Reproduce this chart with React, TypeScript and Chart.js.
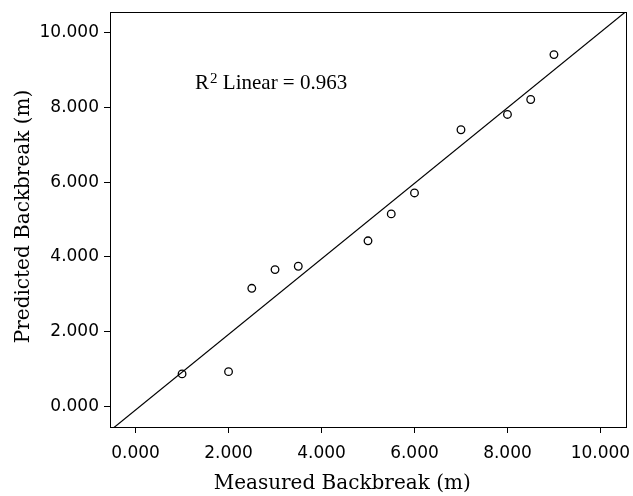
import React, { useEffect, useRef } from "react";
import { Chart, registerables } from "chart.js";

Chart.register(...registerables);

const measured = [1, 2, 2.5, 3, 3.5, 5, 5.5, 6, 7, 8, 8.5, 9];
const predicted = [0.87, 0.93, 3.16, 3.66, 3.75, 4.43, 5.15, 5.71, 7.4, 7.81, 8.21, 9.41];
const tickValues = [0, 2, 4, 6, 8, 10];
const axisMin = -0.55;
const axisMax = 10.55;
const r2Text = "0.963";
const xTitle = "Measured Backbreak (m)";
const yTitle = "Predicted Backbreak (m)";
const labelAt = { x: 1.28, y: 8.49 };

function fit(xs: number[], ys: number[]) {
  const n = xs.length;
  const mx = xs.reduce((a, b) => a + b, 0) / n;
  const my = ys.reduce((a, b) => a + b, 0) / n;
  let sxx = 0, sxy = 0;
  for (let i = 0; i < n; i++) {
    sxx += (xs[i] - mx) * (xs[i] - mx);
    sxy += (xs[i] - mx) * (ys[i] - my);
  }
  const slope = sxy / sxx;
  return { slope, intercept: my - slope * mx };
}

const TITLE_FONT = '20px "DejaVu Serif"';

const boxPlugin = {
  id: "boxAndLabel",
  afterDatasetsDraw(chart: any) {
    const { ctx, chartArea, scales } = chart;
    ctx.save();
    ctx.strokeStyle = "#000";
    ctx.lineWidth = 1;
    ctx.strokeRect(
      Math.round(chartArea.left) + 0.5,
      Math.round(chartArea.top) + 0.5,
      Math.round(chartArea.right - chartArea.left),
      Math.round(chartArea.bottom - chartArea.top)
    );
    const px = scales.x.getPixelForValue(labelAt.x);
    const py = scales.y.getPixelForValue(labelAt.y);
    ctx.fillStyle = "#000";
    ctx.textBaseline = "alphabetic";
    ctx.textAlign = "left";
    ctx.font = '21px "Liberation Serif"';
    ctx.fillText("R", px, py);
    const w = ctx.measureText("R").width;
    ctx.font = '15px "Liberation Serif"';
    ctx.fillText("2", px + w + 1, py - 6);
    const w2 = ctx.measureText("2").width;
    ctx.font = '21px "Liberation Serif"';
    ctx.fillText(" Linear = " + r2Text, px + w + 1 + w2, py);

    // axis titles
    ctx.font = TITLE_FONT;
    ctx.textAlign = "center";
    ctx.fillText(xTitle, chartArea.left + (chartArea.right - chartArea.left) * 0.45, chart.height - 7);
    ctx.translate(29, chartArea.top + (chartArea.bottom - chartArea.top) / 2 - 3);
    ctx.rotate(-Math.PI / 2);
    ctx.fillText(yTitle, 0, 0);
    ctx.restore();
  },
};

export default function App() {
  const ref = useRef<HTMLCanvasElement>(null);
  useEffect(() => {
    if (!ref.current) return;
    const { slope, intercept } = fit(measured, predicted);
    const lineData = [axisMin, axisMax].map((x) => ({ x, y: slope * x + intercept }));
    const tickFont = { family: '"DejaVu Sans"', size: 17 };
    const chart = new Chart(ref.current, {
      type: "scatter",
      data: {
        datasets: [
          {
            type: "line",
            data: lineData,
            borderColor: "#000",
            borderWidth: 1.2,
            pointRadius: 0,
            fill: false,
          } as any,
          {
            data: measured.map((x, i) => ({ x, y: predicted[i] })),
            pointRadius: 3.8,
            pointBorderWidth: 1.3,
            pointBorderColor: "#000",
            pointBackgroundColor: "rgba(0,0,0,0)",
          },
        ],
      },
      options: {
        animation: false,
        responsive: false,
        maintainAspectRatio: false,
        layout: { padding: { top: 12, right: 7, left: 0, bottom: 0 } },
        plugins: { legend: { display: false }, tooltip: { enabled: false } },
        scales: {
          x: {
            type: "linear",
            min: axisMin,
            max: axisMax,
            afterBuildTicks: (s: any) => {
              s.ticks = tickValues.map((v) => ({ value: v }));
            },
            afterFit: (s: any) => {
              s.height = 69;
              s.paddingLeft = 0;
              s.paddingRight = 0;
            },
            grid: { drawOnChartArea: false, tickLength: 6, color: "#000", tickColor: "#000" },
            border: { display: false },
            ticks: {
              color: "#000",
              font: tickFont,
              padding: 10,
              maxRotation: 0,
              callback: (v: any) => Number(v).toFixed(3),
            },
            title: { display: false },
          },
          y: {
            type: "linear",
            min: axisMin,
            max: axisMax,
            afterBuildTicks: (s: any) => {
              s.ticks = tickValues.map((v) => ({ value: v }));
            },
            afterFit: (s: any) => {
              s.width = 110;
              s.paddingTop = 0;
              s.paddingBottom = 0;
            },
            grid: { drawOnChartArea: false, tickLength: 6, color: "#000", tickColor: "#000" },
            border: { display: false },
            ticks: {
              color: "#000",
              font: tickFont,
              padding: 5,
              callback: (v: any) => Number(v).toFixed(3),
            },
            title: { display: false },
          },
        },
      } as any,
      plugins: [boxPlugin],
    });
    return () => chart.destroy();
  }, []);
  return (
    <div style={{ position: "fixed", left: 0, top: 0, width: 633, height: 496, background: "#fff" }}>
      <canvas ref={ref} width={633} height={496} style={{ display: "block" }} />
    </div>
  );
}
